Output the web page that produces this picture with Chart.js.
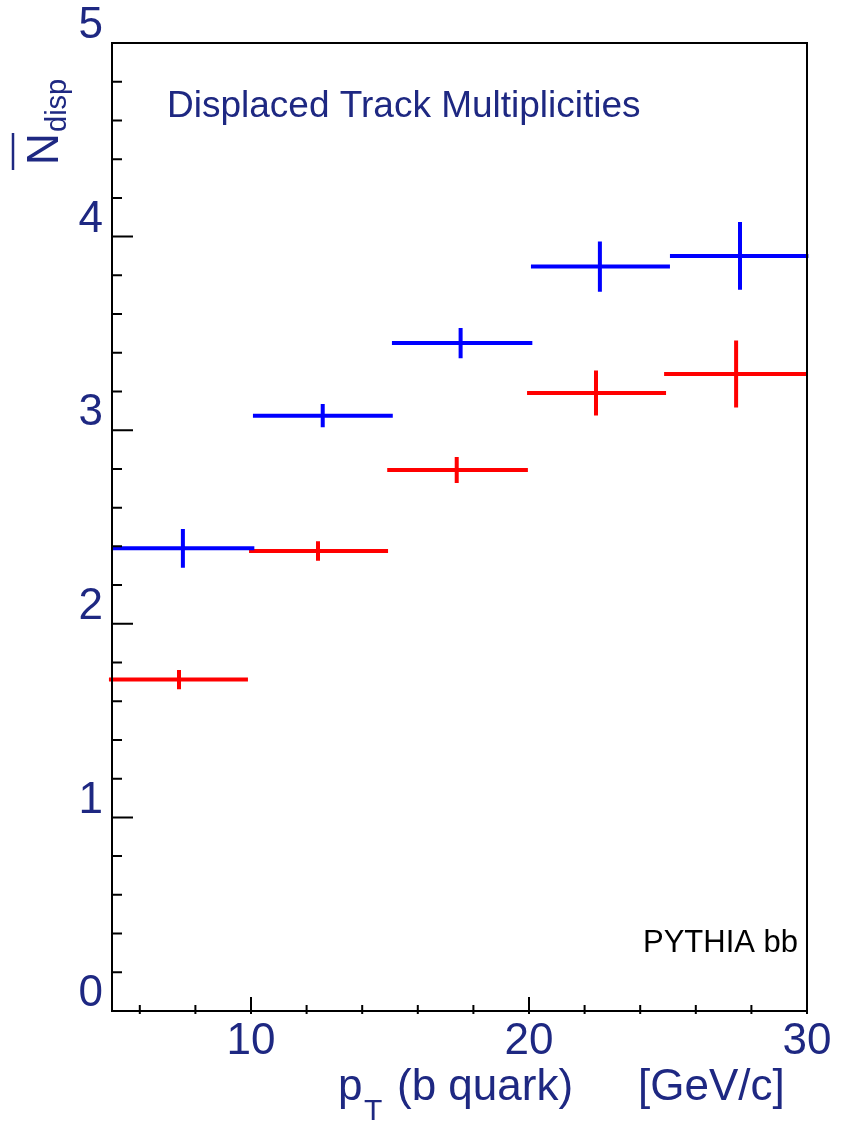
<!DOCTYPE html>
<html>
<head>
<meta charset="utf-8">
<script src="https://cdn.jsdelivr.net/npm/chart.js@4.4.1/dist/chart.umd.min.js"></script>
<style>
  html, body { margin: 0; padding: 0; background: #fff; }
  canvas { display: block; }
</style>
</head>
<body>
<canvas id="chart" width="841" height="1126"></canvas>
<script>
// values: bin centre, bin edges, mean and error
var blueX    = [7.55, 12.58, 17.54, 22.55, 27.59];
var blueLow  = [5.0, 10.07, 15.07, 20.07, 25.07];
var blueHigh = [10.12, 15.1, 20.12, 25.07, 30.05];
var blueY    = [2.39, 3.075, 3.45, 3.845, 3.90];
var blueErr  = [0.10, 0.06, 0.078, 0.13, 0.175];

var redX    = [7.41, 12.41, 17.4, 22.41, 27.45];
var redLow  = [4.89, 9.93, 14.9, 19.93, 24.86];
var redHigh = [9.89, 14.93, 19.96, 24.93, 30.0];
var redY    = [1.712, 2.376, 2.794, 3.192, 3.29];
var redErr  = [0.05, 0.05, 0.067, 0.116, 0.173];

var xTicks      = [10, 20, 30];
var xMinorTicks = [6, 8, 12, 14, 16, 18, 22, 24, 26, 28];
var yTicks      = [0, 1, 2, 3, 4, 5];
var yMinorTicks = [0.2, 0.4, 0.6, 0.8, 1.2, 1.4, 1.6, 1.8, 2.2, 2.4, 2.6, 2.8,
                   3.2, 3.4, 3.6, 3.8, 4.2, 4.4, 4.6, 4.8];

var NAVY = '#1e2882';
var FONT = '"Liberation Sans", Arial, Helvetica, sans-serif';

// turn the bins into cross-shaped error bars, broken up with NaN points
function crosses(xs, lo, hi, ys, err) {
    var pts = [];
    for (var i = 0; i < xs.length; i++) {
        pts.push({x: lo[i], y: ys[i]}, {x: hi[i], y: ys[i]}, {x: hi[i], y: NaN});
        pts.push({x: xs[i], y: ys[i] - err[i]}, {x: xs[i], y: ys[i] + err[i]}, {x: xs[i], y: NaN});
    }
    return pts;
}

function centres(xs, ys) {
    return xs.map(function (x, i) { return {x: x, y: ys[i]}; });
}

var framePlugin = {
    id: 'frame',
    afterDraw: function (chart) {
        var ctx = chart.ctx;
        var a = chart.chartArea;
        var xs = chart.scales.x, ys = chart.scales.y;

        ctx.save();
        ctx.strokeStyle = '#000';
        ctx.lineWidth = 2;
        ctx.strokeRect(a.left, a.top, a.right - a.left, a.bottom - a.top);

        // ticks on the inside, ROOT style
        ctx.beginPath();
        yTicks.forEach(function (v) {
            var p = ys.getPixelForValue(v);
            ctx.moveTo(a.left, p); ctx.lineTo(a.left + 21, p);
        });
        yMinorTicks.forEach(function (v) {
            var p = ys.getPixelForValue(v);
            ctx.moveTo(a.left, p); ctx.lineTo(a.left + 10, p);
        });
        xTicks.forEach(function (v) {
            var p = xs.getPixelForValue(v);
            ctx.moveTo(p, a.bottom + 3); ctx.lineTo(p, a.bottom - 14);
        });
        xMinorTicks.forEach(function (v) {
            var p = xs.getPixelForValue(v);
            ctx.moveTo(p, a.bottom + 3); ctx.lineTo(p, a.bottom - 6);
        });
        ctx.stroke();

        // title and label in the pad
        ctx.fillStyle = NAVY;
        ctx.textBaseline = 'alphabetic';
        ctx.textAlign = 'left';
        ctx.font = '37px ' + FONT;
        ctx.fillText('Displaced Track Multiplicities', 167, 117);

        ctx.fillStyle = '#000';
        ctx.font = '31px ' + FONT;
        ctx.fillText('PYTHIA bb', 643, 952);

        // x axis title with subscript
        ctx.fillStyle = NAVY;
        ctx.font = '44px ' + FONT;
        ctx.fillText('p', 338, 1100);
        ctx.fillText('(b quark)', 397, 1100);
        ctx.fillText('[GeV/c]', 638, 1100);
        ctx.font = '30px ' + FONT;
        ctx.fillText('T', 364, 1120);

        // y axis title: N with bar and subscript, rotated
        ctx.translate(58, 165);
        ctx.rotate(-Math.PI / 2);
        ctx.font = '44px ' + FONT;
        ctx.fillText('N', 0, 0);
        ctx.font = '29px ' + FONT;
        ctx.fillText('disp', 33, 8);
        ctx.strokeStyle = NAVY;
        ctx.lineWidth = 2.5;
        ctx.beginPath();
        ctx.moveTo(-5, -45); ctx.lineTo(32, -45);
        ctx.stroke();
        ctx.restore();
    }
};

new Chart(document.getElementById('chart'), {
    type: 'scatter',
    data: {
        datasets: [{
            data: crosses(blueX, blueLow, blueHigh, blueY, blueErr),
            showLine: true,
            spanGaps: false,
            borderColor: '#0000ff',
            borderWidth: 4,
            borderCapStyle: 'butt',
            pointRadius: 0,
            clip: false
        }, {
            data: crosses(redX, redLow, redHigh, redY, redErr),
            showLine: true,
            spanGaps: false,
            borderColor: '#ff0000',
            borderWidth: 4,
            borderCapStyle: 'butt',
            pointRadius: 0,
            clip: false
        }, {
            data: centres(blueX, blueY).concat(centres(redX, redY)),
            pointRadius: 1,
            pointBackgroundColor: '#000',
            pointBorderWidth: 0
        }]
    },
    options: {
        responsive: false,
        animation: false,
        devicePixelRatio: 1,
        layout: { padding: { top: 43, right: 34, left: 0, bottom: 0 } },
        plugins: {
            legend: { display: false },
            tooltip: { enabled: false }
        },
        scales: {
            x: {
                type: 'linear',
                min: 5,
                max: 30,
                grid: { display: false, drawTicks: false },
                border: { display: false },
                afterBuildTicks: function (s) {
                    s.ticks = xTicks.map(function (v) { return {value: v}; });
                },
                afterFit: function (s) { s.height = 115; },
                ticks: {
                    color: NAVY,
                    font: { family: FONT, size: 44 },
                    padding: 4,
                    maxRotation: 0,
                    autoSkip: false
                }
            },
            y: {
                type: 'linear',
                min: 0,
                max: 5,
                grid: { display: false, drawTicks: false },
                border: { display: false },
                afterBuildTicks: function (s) {
                    s.ticks = yTicks.map(function (v) { return {value: v}; });
                },
                afterFit: function (s) { s.width = 112; },
                ticks: {
                    color: NAVY,
                    font: { family: FONT, size: 44 },
                    padding: 9,
                    labelOffset: -17,
                    autoSkip: false
                }
            }
        }
    },
    plugins: [framePlugin]
});
</script>
</body>
</html>
